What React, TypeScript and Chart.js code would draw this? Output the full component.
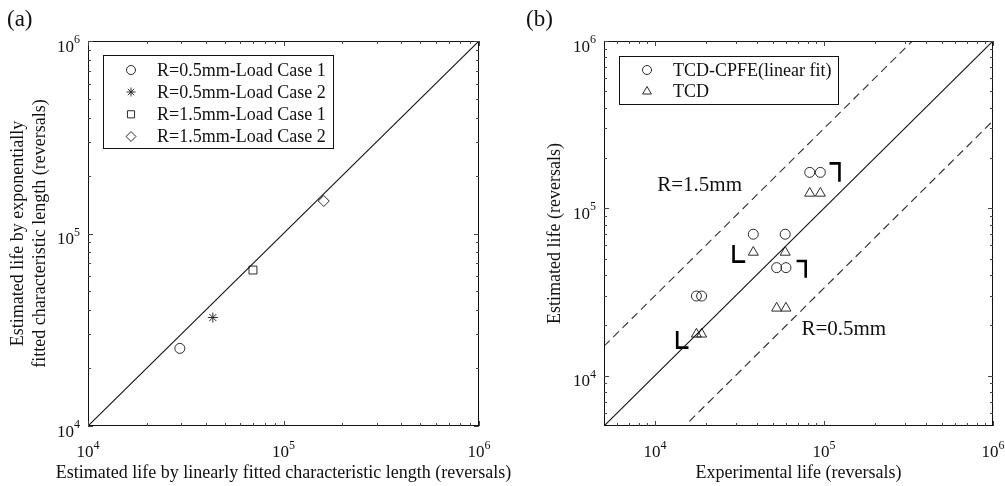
import React, { useEffect, useRef } from 'react';
import { Chart, registerables } from 'chart.js';
import { drawPoint } from 'chart.js/helpers';

Chart.register(...registerables);

const FONT = '"Liberation Serif", "Times New Roman", serif';
const INK = '#111111';
const MARK = '#2a2a2a';

// ---------- Panel (a) data ----------
const seriesA = ['R=0.5mm-Load Case 1', 'R=0.5mm-Load Case 2', 'R=1.5mm-Load Case 1', 'R=1.5mm-Load Case 2'];
const linearFitLife = [29500, 43500, 69800, 160700];
const exponentialFitLife = [25300, 36600, 64600, 147500];
const stylesA = ['circle', 'star', 'rect', 'rectRot'];
const radiiA = [5, 5, 5.6, 5.5];
const rangeA = [1e4, 1e6];

// ---------- Panel (b) data ----------
const seriesB = ['TCD-CPFE(linear fit)', 'TCD'];
const experimentalLife = [17600, 18900, 38200, 59000, 52500, 59600, 82400, 95200];
const tcdCpfeLife = [29900, 29900, 70000, 70000, 44200, 44200, 164000, 164000];
const tcdLife = [17700, 17700, 54600, 54600, 25300, 25300, 123000, 123000];
const rangeB = [5000, 1e6];
const bandFactor = 3;
const upperBandX = [5000, 333333];
const lowerBandX = [16000, 1e6];
// bracket annotations (data coordinates)
const bracketX = [
  [29200, 29200, 34200],
  [13550, 13550, 15800],
  [107900, 123500, 123500],
  [68900, 78000, 78000],
];
const bracketY = [
  [60400, 48000, 48000],
  [18500, 14700, 14700],
  [185700, 185700, 144300],
  [48400, 48400, 38500],
];
const noteText = ['R=1.5mm', 'R=0.5mm'];
const noteX = [10330, 73600];
const noteY = [126900, 17520];

// ---------- ticks ----------
const majorTicks = [1e4, 1e5, 1e6];
const decadeStarts = [1e3, 1e4, 1e5];
const minorMultipliers = [2, 3, 4, 5, 6, 7, 8, 9];

function minorTicks(min: number, max: number) {
  const out: number[] = [];
  decadeStarts.forEach((d) => minorMultipliers.forEach((m) => {
    const v = d * m;
    if (v > min * 1.0001 && v < max * 0.9999) out.push(v);
  }));
  return out;
}

function drawPower(ctx: CanvasRenderingContext2D, v: number, x: number, baseline: number, align: 'center' | 'right') {
  const exp = String(Math.round(Math.log10(v)));
  ctx.font = `17px ${FONT}`;
  const w1 = ctx.measureText('10').width;
  ctx.font = `12px ${FONT}`;
  const w2 = ctx.measureText(exp).width;
  const total = w1 + w2;
  const left = align === 'center' ? x - total / 2 : x - total;
  ctx.textAlign = 'left';
  ctx.textBaseline = 'alphabetic';
  ctx.fillStyle = INK;
  ctx.font = `17px ${FONT}`;
  ctx.fillText('10', left, baseline);
  ctx.font = `12px ${FONT}`;
  ctx.fillText(exp, left + w1, baseline - 8.5);
}

type FrameCfg = {
  panel: string;
  panelX: number;
  range: number[];
  xTitle: string;
  yTitle: string[];
  yTitleX: number[];
  legend: { x0: number; y0: number; x1: number; y1: number; markerX: number; textX: number; rowY: number[]; labels: string[]; styles: string[]; radii: number[] };
  notes?: { text: string[]; x: number[]; y: number[] };
};

function framePlugin(cfg: FrameCfg) {
  return {
    id: 'frame',
    afterDraw(chart: any) {
      const ctx: CanvasRenderingContext2D = chart.ctx;
      const { left, right, top, bottom } = chart.chartArea;
      const xs = chart.scales.x;
      const ys = chart.scales.y;
      ctx.save();

      // box
      ctx.strokeStyle = INK;
      ctx.lineWidth = 1;
      ctx.strokeRect(Math.round(left) + 0.5, Math.round(top) + 0.5, Math.round(right - left) - 1, Math.round(bottom - top) - 1);

      // ticks (inside, mirrored)
      const minors = minorTicks(cfg.range[0], cfg.range[1]);
      const tickSet = [
        ...majorTicks.map((v) => ({ v, len: 5 })),
        ...minors.map((v) => ({ v, len: 3 })),
      ];
      ctx.strokeStyle = '#444';
      ctx.beginPath();
      tickSet.forEach(({ v, len }) => {
        if (v < cfg.range[0] || v > cfg.range[1]) return;
        const px = Math.round(xs.getPixelForValue(v)) + 0.5;
        ctx.moveTo(px, bottom);
        ctx.lineTo(px, bottom - len);
        ctx.moveTo(px, top);
        ctx.lineTo(px, top + len);
        const py = Math.round(ys.getPixelForValue(v)) + 0.5;
        ctx.moveTo(left, py);
        ctx.lineTo(left + len, py);
        ctx.moveTo(right, py);
        ctx.lineTo(right - len, py);
      });
      ctx.stroke();

      // tick labels
      majorTicks.forEach((v) => {
        const px = xs.getPixelForValue(v);
        drawPower(ctx, v, px, bottom + 31, 'center');
        const py = ys.getPixelForValue(v);
        drawPower(ctx, v, left - 8, py + 10.5, 'right');
      });

      // axis titles
      ctx.fillStyle = INK;
      ctx.font = `18px ${FONT}`;
      ctx.textAlign = 'center';
      ctx.textBaseline = 'alphabetic';
      ctx.fillText(cfg.xTitle, (left + right) / 2, 478);
      ctx.textBaseline = 'middle';
      cfg.yTitle.forEach((t, i) => {
        ctx.save();
        ctx.translate(cfg.yTitleX[i], (top + bottom) / 2);
        ctx.rotate(-Math.PI / 2);
        ctx.fillText(t, 0, 0);
        ctx.restore();
      });

      // panel label
      ctx.font = `23px ${FONT}`;
      ctx.textAlign = 'left';
      ctx.textBaseline = 'alphabetic';
      ctx.fillText(cfg.panel, cfg.panelX, 26);

      // notes
      if (cfg.notes) {
        ctx.font = `21px ${FONT}`;
        cfg.notes.text.forEach((t, i) => {
          ctx.fillText(t, xs.getPixelForValue(cfg.notes!.x[i]), ys.getPixelForValue(cfg.notes!.y[i]));
        });
      }

      // legend
      const lg = cfg.legend;
      ctx.fillStyle = '#ffffff';
      ctx.fillRect(lg.x0, lg.y0, lg.x1 - lg.x0, lg.y1 - lg.y0);
      ctx.strokeStyle = INK;
      ctx.lineWidth = 1;
      ctx.strokeRect(Math.round(lg.x0) + 0.5, Math.round(lg.y0) + 0.5, Math.round(lg.x1 - lg.x0), Math.round(lg.y1 - lg.y0));
      lg.labels.forEach((label, i) => {
        ctx.strokeStyle = MARK;
        ctx.fillStyle = 'rgba(0,0,0,0)';
        ctx.lineWidth = 1;
        drawPoint(ctx, { pointStyle: lg.styles[i], radius: lg.radii[i] * 0.9, borderWidth: 1, rotation: 0 } as any, lg.markerX, lg.rowY[i]);
        ctx.fillStyle = INK;
        ctx.font = `18px ${FONT}`;
        ctx.textAlign = 'left';
        ctx.textBaseline = 'middle';
        ctx.fillText(label, lg.textX, lg.rowY[i] + 1);
      });

      ctx.restore();
    },
  };
}

function logScales(range: number[]) {
  return {
    x: { type: 'logarithmic', min: range[0], max: range[1], display: false },
    y: { type: 'logarithmic', min: range[0], max: range[1], display: false },
  };
}

function markerSet(label: string, xs: number[], ys: number[], style: string, radius: number) {
  return {
    label,
    data: xs.map((x, i) => ({ x, y: ys[i] })),
    pointStyle: style,
    pointRadius: radius,
    pointBorderColor: MARK,
    pointBackgroundColor: 'rgba(0,0,0,0)',
    pointBorderWidth: 1,
    showLine: false,
  };
}

function lineSet(label: string, xs: number[], ys: number[], color: string, width: number, dash: number[]) {
  return {
    label,
    data: xs.map((x, i) => ({ x, y: ys[i] })),
    showLine: true,
    borderColor: color,
    borderWidth: width,
    borderDash: dash,
    borderJoinStyle: 'miter',
    borderCapStyle: 'butt',
    pointRadius: 0,
    tension: 0,
  };
}

export default function App() {
  const refA = useRef<HTMLCanvasElement>(null);
  const refB = useRef<HTMLCanvasElement>(null);

  useEffect(() => {
    const chartA = new Chart(refA.current!, {
      type: 'scatter',
      data: {
        datasets: [
          lineSet('1:1', rangeA, rangeA, '#111', 1.1, []),
          ...seriesA.map((label, i) => markerSet(label, [linearFitLife[i]], [exponentialFitLife[i]], stylesA[i], radiiA[i])),
        ] as any,
      },
      options: {
        animation: false,
        responsive: false,
        layout: { padding: { left: 88, right: 81, top: 41, bottom: 60 } },
        scales: logScales(rangeA) as any,
        plugins: { legend: { display: false }, tooltip: { enabled: false } },
      },
      plugins: [framePlugin({
        panel: '(a)',
        panelX: 7,
        range: rangeA,
        xTitle: 'Estimated life by linearly fitted characteristic length (reversals)',
        yTitle: ['Estimated life by exponentially', 'fitted characteristic length (reversals)'],
        yTitleX: [18, 40],
        legend: {
          x0: 103, y0: 55, x1: 333, y1: 148,
          markerX: 131, textX: 157,
          rowY: [70, 92, 114.3, 136.5],
          labels: seriesA, styles: stylesA, radii: radiiA,
        },
      }) as any],
    });

    const chartB = new Chart(refB.current!, {
      type: 'scatter',
      data: {
        datasets: [
          lineSet('1:1', rangeB, rangeB, '#111', 1.1, []),
          lineSet('upper', upperBandX, upperBandX.map((x) => x * bandFactor), '#333', 1.1, [8, 5]),
          lineSet('lower', lowerBandX, lowerBandX.map((x) => x / bandFactor), '#333', 1.2, [8, 5]),
          ...bracketX.map((bx, i) => lineSet('bracket' + i, bx, bracketY[i], '#000', 2.6, [])),
          markerSet(seriesB[0], experimentalLife, tcdCpfeLife, 'circle', 5),
          markerSet(seriesB[1], experimentalLife, tcdLife, 'triangle', 5.8),
        ] as any,
      },
      options: {
        animation: false,
        responsive: false,
        layout: { padding: { left: 104, right: 12, top: 41, bottom: 60 } },
        scales: logScales(rangeB) as any,
        plugins: { legend: { display: false }, tooltip: { enabled: false } },
      },
      plugins: [framePlugin({
        panel: '(b)',
        panelX: 26,
        range: rangeB,
        xTitle: 'Experimental life (reversals)',
        yTitle: ['Estimated life (reversals)'],
        yTitleX: [55],
        legend: {
          x0: 119, y0: 56, x1: 338, y1: 104,
          markerX: 147, textX: 173,
          rowY: [70, 91.5],
          labels: seriesB, styles: ['circle', 'triangle'], radii: [5, 5.6],
        },
        notes: { text: noteText, x: noteX, y: noteY },
      }) as any],
    });

    return () => {
      chartA.destroy();
      chartB.destroy();
    };
  }, []);

  return (
    <div style={{ position: 'absolute', left: 0, top: 0, width: 1005, height: 486, background: '#fff' }}>
      <canvas ref={refA} width={560} height={486} style={{ position: 'absolute', left: 0, top: 0 }} />
      <canvas ref={refB} width={505} height={486} style={{ position: 'absolute', left: 500, top: 0 }} />
    </div>
  );
}
